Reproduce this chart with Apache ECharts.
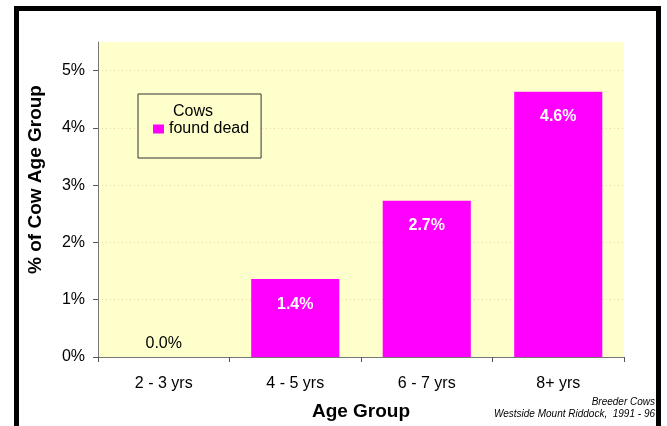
<!DOCTYPE html>
<html><head><meta charset="utf-8">
<script src="https://cdn.jsdelivr.net/npm/echarts@6/dist/echarts.min.js"></script>
<style>html,body{margin:0;padding:0;background:#fff}#c{width:667px;height:426px}</style>
</head><body><div id="c"></div>
<script>
var categories = ['2 - 3 yrs', '4 - 5 yrs', '6 - 7 yrs', '8+ yrs'];
var values = [0, 1.36, 2.73, 4.63];
var yTicks = [0, 1, 2, 3, 4, 5];
var seriesName = 'found dead';
var legendTitle = 'Cows';
var xTitle = 'Age Group';
var yTitle = '% of Cow Age Group';
var noteLines = ['Breeder Cows', 'Westside Mount Riddock,  1991 - 96'];

var F = 'Liberation Sans, Arial, sans-serif';
var chart = echarts.init(document.getElementById('c'));
var data = values.map(function (v, i) {
  if (v === 0) {
    return { value: v, label: { position: 'top', color: '#000', fontWeight: 'normal', distance: 5 } };
  }
  return v;
});
chart.setOption({
  animation: false,
  backgroundColor: '#fff',
  grid: { left: 98, right: 43, top: 42, bottom: 69, show: true, backgroundColor: '#FFFFCC', borderWidth: 0 },
  legend: {
    left: 138, top: 94,
    orient: 'vertical',
    padding: [27, 12, 21, 15],
    backgroundColor: '#FFFFCC',
    borderColor: '#333', borderWidth: 1,
    itemWidth: 11, itemHeight: 9, itemGap: 4,
    icon: 'rect',
    textStyle: { fontFamily: F, fontSize: 16, color: '#000' },
    data: [seriesName]
  },
  graphic: [
    { type: 'rect', shape: { x: 16.5, y: 8.5, width: 642, height: 440 }, style: { fill: 'none', stroke: '#000', lineWidth: 5 }, z: 100 },
    { type: 'text', x: 193, y: 112, style: { text: legendTitle, font: '16px ' + F, fill: '#000', align: 'center', verticalAlign: 'middle' }, z: 100 },
    { type: 'text', right: 12, top: 397, style: { text: noteLines[0], font: 'italic 10px ' + F, fill: '#000' }, z: 100 },
    { type: 'text', right: 12, top: 409, style: { text: noteLines[1], font: 'italic 10px ' + F, fill: '#000' }, z: 100 }
  ],
  xAxis: {
    type: 'category', data: categories,
    name: xTitle, nameLocation: 'middle', nameGap: 45,
    nameTextStyle: { fontFamily: F, fontSize: 19, fontWeight: 'bold', color: '#000' },
    axisLine: { lineStyle: { color: '#777', width: 1 } },
    axisTick: { show: true, alignWithLabel: false, length: 5, lineStyle: { color: '#555' } },
    axisLabel: { fontFamily: F, fontSize: 16, color: '#000', margin: 19 }
  },
  yAxis: {
    type: 'value', min: 0, max: 5.5, interval: 1,
    name: yTitle, nameLocation: 'middle', nameGap: 53, nameRotate: 90,
    nameTextStyle: { fontFamily: F, fontSize: 19, fontWeight: 'bold', color: '#000', padding: [0, 0, 0, 40] },
    axisLine: { show: true, lineStyle: { color: '#777', width: 1 } },
    axisTick: { show: true, length: 5, customValues: yTicks, lineStyle: { color: '#555' } },
    axisLabel: { fontFamily: F, fontSize: 16, color: '#000', margin: 13, customValues: yTicks,
      formatter: function (v) { return yTicks.indexOf(v) >= 0 ? v + '%' : ''; } },
    splitLine: { show: true, lineStyle: { type: [1, 3], color: ['#E8D8B0', '#E8D8B0', '#E8D8B0', '#E8D8B0', '#E8D8B0', '#E8D8B0', 'rgba(0,0,0,0)'] } }
  },
  series: [{
    name: seriesName, type: 'bar', data: data,
    barCategoryGap: '33%',
    itemStyle: { color: '#FF00FF' },
    label: { show: true, position: 'insideTop', distance: 17, color: '#fff', fontWeight: 'bold', fontSize: 16, fontFamily: F,
      formatter: function (p) { return p.value.toFixed(1) + '%'; } }
  }]
});
</script></body></html>
